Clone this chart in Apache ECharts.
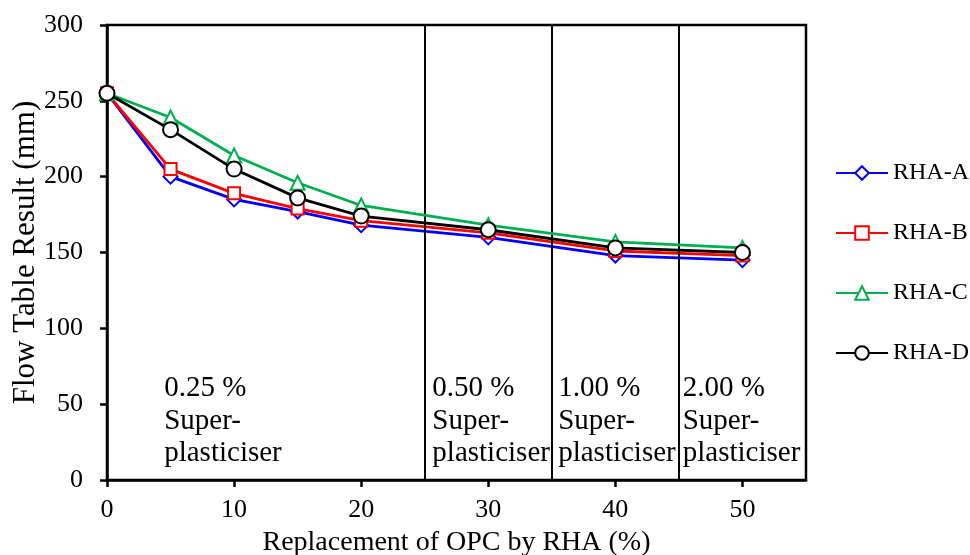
<!DOCTYPE html>
<html><head><meta charset="utf-8">
<script src="https://cdn.jsdelivr.net/npm/echarts@6/dist/echarts.min.js"></script>
<style>html,body{margin:0;padding:0;background:#fff}#c{width:970px;height:555px}</style>
</head><body><div id="c"></div>
<script>
const xValues = [0, 5, 10, 15, 20, 30, 40, 50];
const rhaA = [255, 200, 185, 177, 168, 160, 148, 145];
const rhaB = [255, 205, 189, 179, 171, 163, 151, 148];
const rhaC = [255, 239, 214, 196, 181, 168, 157, 153];
const rhaD = [255, 231, 205, 186, 174, 165, 153, 150];
const seriesNames = ['RHA-A', 'RHA-B', 'RHA-C', 'RHA-D'];
const xTicks = [0, 10, 20, 30, 40, 50];
const dividers = [25, 35, 45];
const zoneLabels = [
  {x: 4.5, text: '0.25 %\nSuper-\nplasticiser'},
  {x: 25.6, text: '0.50 %\nSuper-\nplasticiser'},
  {x: 35.5, text: '1.00 %\nSuper-\nplasticiser'},
  {x: 45.3, text: '2.00 %\nSuper-\nplasticiser'}
];

const FONT = '"Liberation Serif", "Times New Roman", serif';
const colors = ['#0000FF', '#FF0000', '#00B050', '#000000'];
const symbols = ['emptyDiamond', 'emptyRect', 'emptyTriangle', 'emptyCircle'];
const sizes = [14, 12, 14, 15];
const allData = [rhaA, rhaB, rhaC, rhaD];

const chart = echarts.init(document.getElementById('c'), null, {renderer: 'canvas'});

const series = allData.map((d, i) => ({
  name: seriesNames[i],
  type: 'line',
  data: xValues.map((x, j) => [x, d[j]]),
  symbol: symbols[i],
  symbolSize: sizes[i],
  showAllSymbol: true,
  lineStyle: {color: colors[i], width: 2.8},
  itemStyle: {color: colors[i], borderColor: colors[i], borderWidth: 2.2},
  z: 3 + i,
  animation: false
}));

series.push({
  name: 'dividers',
  type: 'line',
  data: [],
  silent: true,
  markLine: {
    symbol: 'none',
    silent: true,
    label: {show: false},
    lineStyle: {color: '#000', width: 2, type: 'solid'},
    data: dividers.map(v => ({xAxis: v}))
  },
  animation: false
});

chart.setOption({
  animation: false,
  grid: {left: 107, right: 164, top: 25, bottom: 75, containLabel: false, outerBoundsMode: 'none',
    show: true, borderColor: '#000', borderWidth: 2.5, backgroundColor: 'transparent'},
  legend: {
    orient: 'vertical',
    left: 835,
    top: 161,
    padding: 0,
    itemWidth: 52,
    itemHeight: 17,
    itemGap: 36,
    data: seriesNames,
    textStyle: {fontFamily: FONT, fontSize: 24, color: '#000'}
  },
  xAxis: {
    type: 'value', min: 0, max: 55, interval: 10,
    name: 'Replacement of OPC by RHA (%)',
    nameLocation: 'middle', nameGap: 49, nameMoveOverlap: false,
    nameTextStyle: {fontFamily: FONT, fontSize: 28, color: '#000'},
    axisLine: {show: true, lineStyle: {color: '#000', width: 2.5}},
    axisTick: {show: true, inside: false, length: 7, lineStyle: {color: '#000', width: 2.5}, customValues: xTicks},
    axisLabel: {fontFamily: FONT, fontSize: 26, color: '#000', margin: 17, customValues: xTicks},
    splitLine: {show: false}
  },
  yAxis: {
    type: 'value', min: 0, max: 300, interval: 50,
    name: 'Flow Table Result (mm)',
    nameLocation: 'middle', nameGap: 66, nameMoveOverlap: false,
    nameTextStyle: {fontFamily: FONT, fontSize: 31, color: '#000'},
    axisLine: {show: true, lineStyle: {color: '#000', width: 2.5}},
    axisTick: {show: true, inside: false, length: 7, lineStyle: {color: '#000', width: 2.5}},
    axisLabel: {fontFamily: FONT, fontSize: 26, color: '#000', margin: 24},
    splitLine: {show: false}
  },
  series: series
});

const yTop = 71;
chart.setOption({
  graphic: zoneLabels.map(z => {
    const p = chart.convertToPixel({gridIndex: 0}, [z.x, yTop]);
    return {
      type: 'text',
      left: p[0], top: p[1],
      style: {text: z.text, font: '29px ' + FONT, fill: '#000', lineHeight: 32.5}
    };
  })
});
</script></body></html>
